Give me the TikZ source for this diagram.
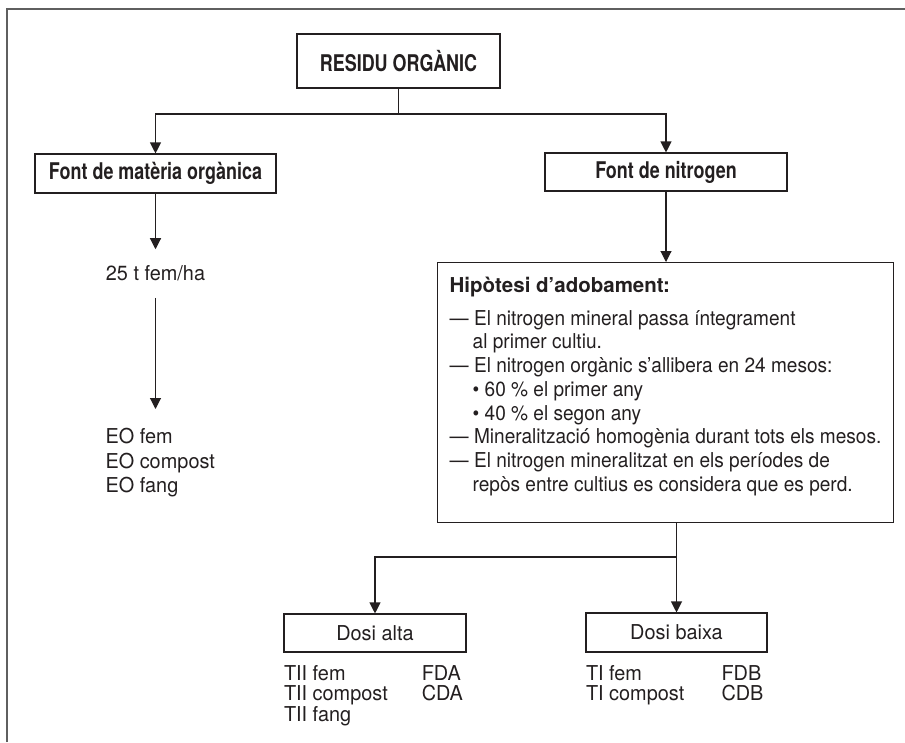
\documentclass[tikz,border=0pt]{standalone}
\usepackage{fontspec}
\setmainfont{TeX Gyre Heros}[FakeStretch=0.97]
\newfontfamily\headfont{TeX Gyre Heros}[FakeStretch=0.78]
\newfontfamily\notefont{TeX Gyre Heros}[FakeStretch=0.93]
\newfontfamily\notehead{TeX Gyre Heros}[FakeStretch=1.0]
\usetikzlibrary{arrows.meta,positioning}
\definecolor{ink}{RGB}{35,31,32}
\definecolor{framegray}{RGB}{95,95,95}
\newcommand{\txtsize}{\fontsize{20.5}{24.5}\selectfont}
\newcommand{\hang}{\hspace*{23pt}}

\begin{document}
\begin{tikzpicture}[x=1pt, y=-1pt, line width=1.1pt, color=ink,
	 >={Triangle[length=11pt,width=11pt]},
	 boxnode/.style={draw, rectangle, inner sep=0pt, align=center},
	 headbox/.style={boxnode, font=\headfont\bfseries\fontsize{23}{27}\selectfont},
	 dosebox/.style={boxnode, minimum width=182pt, minimum height=38pt, font=\txtsize},
	 labelnode/.style={inner xsep=0pt, inner ysep=16pt, font=\txtsize},
	 listnode/.style={inner sep=0pt, align=left, font=\fontsize{20.5}{20.5}\selectfont}]
	    \useasboundingbox (0,0) rectangle (905,742);
	    \draw[framegray, line width=2.2pt] (7,742) -- (7,9) -- (905,9);
	    \node[headbox, minimum width=203pt, minimum height=54pt] (residu) at (398.5,61) {RESIDU ORGÀNIC};
	    \node[headbox, minimum width=241pt, minimum height=39pt] (fontmo) at (155.5,173.5) {Font de matèria orgànica};
	    \node[headbox, minimum width=242pt, minimum height=38pt] (fontn) at (666,172) {Font de nitrogen};
	    \coordinate (split1) at (398.5,114);
	    \draw (residu) -- (split1);
	    \draw[->] (split1) -| (fontmo);
	    \draw[->] (split1) -| (fontn);
	    \node[labelnode] (dose) at (155.5,273.5) {25 t fem/ha};
	    \draw[->] (fontmo) -- (dose);
	    \node[listnode, inner ysep=19pt, anchor=north west, font=\txtsize] (eo) at (105,409) {EO fem\\EO compost\\EO fang};
	    \draw[->] (dose.south) -- (dose.south |- eo.north);
	    \node[boxnode, anchor=north west, minimum width=456pt, minimum height=260pt, align=left,
	          font=\notefont\fontsize{20.5}{23.7}\selectfont] (hipo) at (437,262) {{\notehead\bfseries Hipòtesi d’adobament:}\\[8.8pt]
	        — El nitrogen mineral passa íntegrament\\
	        \hang al primer cultiu.\\
	        — El nitrogen orgànic s’allibera en 24 mesos:\\
	        \hang • 60 \% el primer any\\
	        \hang • 40 \% el segon any\\
	        — Mineralització homogènia durant tots els mesos.\\
	        — El nitrogen mineralitzat en els períodes de\\
	        \hang repòs entre cultius es considera que es perd.\\[-7pt]\mbox{}};
	    \draw[->] (fontn) -- (fontn |- hipo.north);
	    \node[dosebox] (dosia) at (375,633) {Dosi alta};
	    \node[dosebox, minimum width=181pt, minimum height=39pt] (dosib) at (676.5,632.5) {Dosi baixa};
	    \coordinate (split2) at (676.5,557);
	    \draw (split2 |- hipo.south) -- (split2);
	    \draw[->] (split2) -- (dosib);
	    \draw[->] (split2) -| (dosia);
	    \node[listnode, below right=12pt and 0pt of dosia.south west] (tiilist) {TII fem\\TII compost\\TII fang};
	    \node[listnode, below left=12pt and 3pt of dosia.south east] (dacodes) {FDA\\CDA};
	    \node[listnode, below right=12pt and 0pt of dosib.south west] (tilist) {TI fem\\TI compost};
	    \node[listnode, below left=12pt and 3.5pt of dosib.south east] (dbcodes) {FDB\\CDB};
	 \end{tikzpicture}
\end{document}
